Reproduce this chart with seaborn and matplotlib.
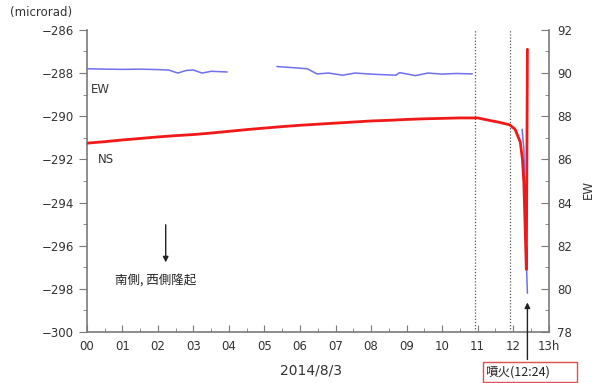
import numpy as np
import pandas as pd
import matplotlib
matplotlib.use("Agg")
import matplotlib.pyplot as plt
from matplotlib.patches import Rectangle
from matplotlib.ticker import MultipleLocator
import seaborn as sns

# NS傾斜 (左軸, microrad) - 時刻は 2014/8/3 の時間
ns_hours = [0, 0.5, 1, 1.5, 2, 2.5, 3, 3.5, 4, 4.5, 5, 5.5, 6, 6.5, 7, 7.5, 8,
            8.5, 9, 9.5, 10, 10.5, 11, 11.35, 11.6, 11.9, 12.05, 12.2, 12.26,
            12.3, 12.33, 12.37, 12.4]
ns_values = [-291.25, -291.18, -291.1, -291.03, -290.96, -290.9, -290.85,
             -290.78, -290.7, -290.62, -290.55, -290.48, -290.42, -290.37,
             -290.32, -290.27, -290.22, -290.19, -290.15, -290.12, -290.1,
             -290.08, -290.08, -290.2, -290.28, -290.4, -290.6, -291.2,
             -292.0, -293.1, -294.8, -297.1, -286.9]

# EW傾斜 (右軸) - 欠測区間で分割
ew_hours = [0, 0.5, 1, 1.5, 2, 2.3, 2.56, 2.8, 3.0, 3.24, 3.5, 3.95,
            5.35, 5.8, 6.2, 6.48, 6.8, 7.2, 7.55, 8.0, 8.4, 8.7, 8.8, 9.0,
            9.25, 9.6, 10.0, 10.4, 10.85,
            12.25, 12.3, 12.33, 12.36, 12.38, 12.4]
ew_values = [90.2, 90.18, 90.17, 90.18, 90.16, 90.14, 90.0, 90.12, 90.14,
             90.0, 90.08, 90.05,
             90.3, 90.25, 90.2, 89.96, 90.0, 89.9, 90.0, 89.95, 89.92, 89.9,
             90.02, 89.96, 89.88, 90.0, 89.95, 89.98, 89.96,
             87.4, 86.5, 84.5, 82.0, 80.8, 79.8]
ew_segment = [1] * 12 + [2] * 17 + [3] * 6

xtick_labels = ["00", "01", "02", "03", "04", "05", "06", "07", "08", "09",
                "10", "11", "12", "13h"]
dotted_hours = [10.92, 11.9]
eruption_hour = 12.4

ns = pd.DataFrame({"hour": ns_hours, "tilt": ns_values})
ew = pd.DataFrame({"hour": ew_hours, "tilt": ew_values, "seg": ew_segment})

sns.set_style("ticks")
plt.rcParams["font.family"] = ["DejaVu Sans", "Noto Sans CJK JP"]

fig = plt.figure(figsize=(6.03, 3.83), dpi=100)
ax = fig.add_axes([0.144, 0.133, 0.766, 0.789])
ax2 = ax.twinx()

sns.lineplot(data=ew, x="hour", y="tilt", units="seg", estimator=None,
             color="#6f6ff0", lw=1.1, ax=ax2, zorder=2)
sns.lineplot(data=ns, x="hour", y="tilt", color="#f01818", lw=2.0,
             ax=ax, zorder=3)
# 赤線を青線の上に描く
ax.set_zorder(ax2.get_zorder() + 1)
ax.patch.set_visible(False)

for h in dotted_hours:
    ax.axvline(h, color="#555555", ls=(0, (1, 1.5)), lw=0.9)

ax.set_xlim(0, 13)
ax.set_ylim(-300, -286)
ax2.set_ylim(78, 92)
ax.set_xticks(range(14))
ax.set_xticklabels(xtick_labels)
ax.xaxis.set_minor_locator(MultipleLocator(0.5))
ax.yaxis.set_major_locator(MultipleLocator(2))
ax.yaxis.set_minor_locator(MultipleLocator(1))
ax2.yaxis.set_major_locator(MultipleLocator(2))
ax2.yaxis.set_minor_locator(MultipleLocator(1))
ax.set_xlabel("")
ax.set_ylabel("")
ax2.set_ylabel("")

spine_c = "#7a7a7a"
for a in (ax, ax2):
    a.spines["top"].set_visible(False)
    for s in ("left", "right", "bottom"):
        a.spines[s].set_color(spine_c)
        a.spines[s].set_linewidth(1.2)
ax.spines["right"].set_visible(False)
ax2.spines["left"].set_visible(False)
ax2.spines["bottom"].set_visible(False)

ax.tick_params(axis="x", which="both", direction="in", colors=spine_c,
               labelcolor="#333333", labelsize=8.5, pad=6)
ax.tick_params(axis="x", which="major", length=5)
ax.tick_params(axis="x", which="minor", length=3)
ax.tick_params(axis="y", which="both", direction="out", colors=spine_c,
               labelcolor="#333333", labelsize=8.5)
ax.tick_params(axis="y", which="major", length=6)
ax.tick_params(axis="y", which="minor", length=3)
ax2.tick_params(axis="y", which="both", direction="in", colors=spine_c,
                labelcolor="#333333", labelsize=8.5, pad=6)
ax2.tick_params(axis="y", which="major", length=6)
ax2.tick_params(axis="y", which="minor", length=3)
ax.set_yticklabels([f"\u2212{abs(int(v))}" for v in ax.get_yticks()])

ax.text(0.12, -288.75, "EW", fontsize=8.5, color="#333333", va="center")
ax.text(0.3, -292.0, "NS", fontsize=8.5, color="#333333", va="center")
ax.annotate("", xy=(2.22, -296.9), xytext=(2.22, -294.9),
            arrowprops=dict(arrowstyle="-|>", color="#222222", lw=1,
                            mutation_scale=8))
ax.text(0.79, -297.6, "南側, 西側隆起", fontsize=9, color="#222222",
        va="center", family=["Noto Sans CJK JP", "DejaVu Sans"])

fig.text(0.017, 0.968, "(microrad)", fontsize=8.5, color="#333333",
         va="center")
fig.text(0.975, 0.505, "EW", fontsize=8.5, color="#333333", rotation=90,
         va="center", ha="center")
fig.text(0.515, 0.033, "2014/8/3", fontsize=10, color="#333333",
         ha="center", va="center")

# 噴火時刻
ax.annotate("", xy=(eruption_hour, -298.5), xytext=(eruption_hour, -301.4),
            annotation_clip=False,
            arrowprops=dict(arrowstyle="-|>", color="#222222", lw=1,
                            mutation_scale=8))
fig.patches.append(Rectangle((0.801, 0.003), 0.156, 0.052,
                             transform=fig.transFigure, fill=False,
                             edgecolor="#e05050", lw=1))
fig.text(0.805, 0.029, "噴火(12:24)", fontsize=9, color="#222222",
         va="center", family=["Noto Sans CJK JP", "DejaVu Sans"])

fig.savefig("out.png", dpi=100)
